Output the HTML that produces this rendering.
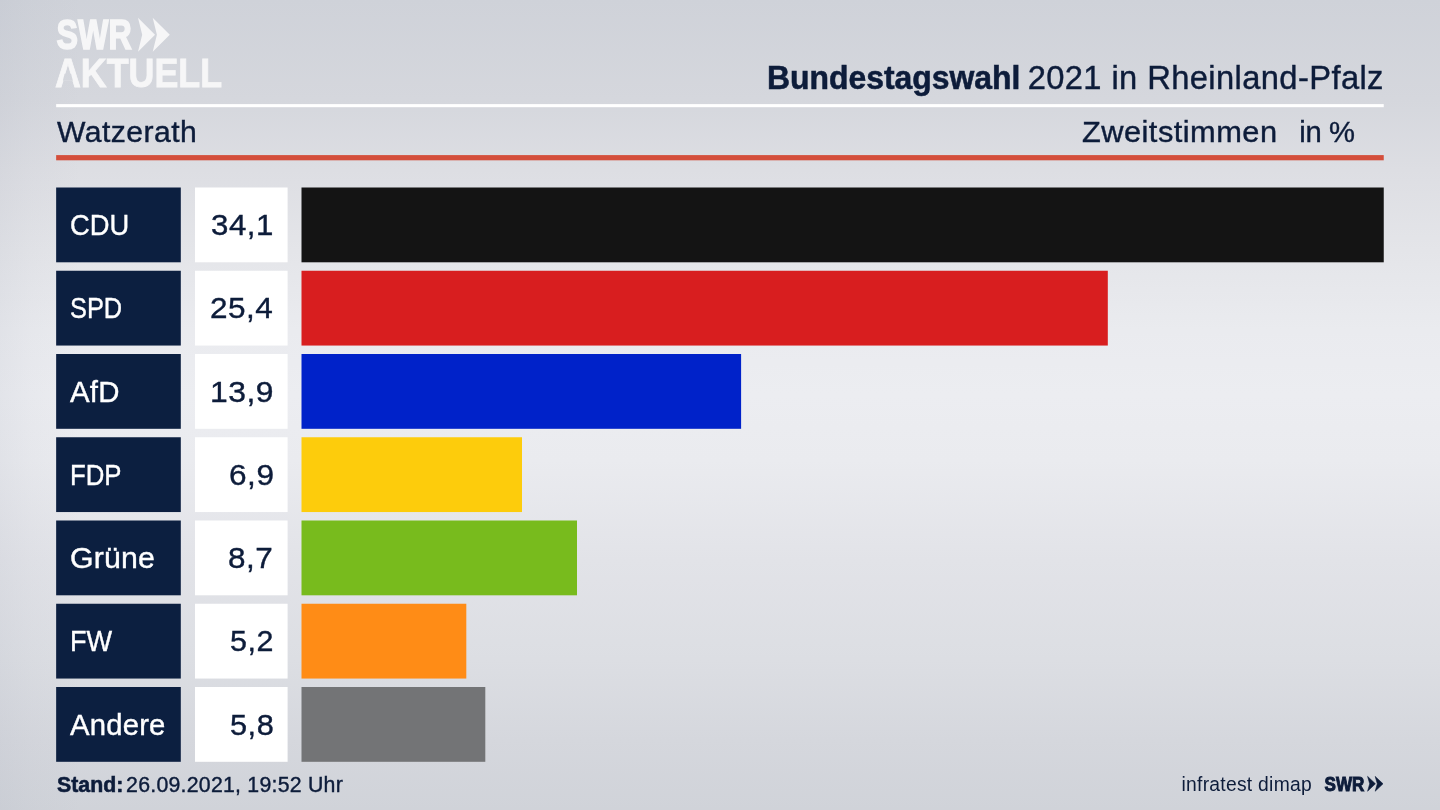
<!DOCTYPE html>
<html lang="de">
<head>
<meta charset="utf-8">
<title>Bundestagswahl 2021 in Rheinland-Pfalz – Watzerath – Zweitstimmen</title>
<style>
  html, body { margin: 0; padding: 0; }
  body {
    width: 1440px; height: 810px; overflow: hidden; position: relative;
    font-family: "Liberation Sans", sans-serif;
    color: #0d1c3a;
    background:
      linear-gradient(to right, rgba(170,176,190,0.15) 0px, rgba(170,176,190,0.07) 30px, rgba(170,176,190,0) 80px),
      linear-gradient(to bottom, #cfd2d9 0px, #d5d7dd 100px, #dddee3 170px, #e4e5e9 250px, #eaebef 330px, #ecedf1 395px, #eaebef 460px, #e2e3e8 560px, #dcdee3 660px, #d5d7dd 740px, #d0d3d9 810px);
  }
  h1 { margin: 0; font-size: inherit; font-weight: normal; }
  .tx { position: absolute; white-space: nowrap; line-height: 1; transform-origin: 0 50%; }
  span.tx { -webkit-text-stroke: 0.4px currentColor; }
  b.tx { font-weight: bold; -webkit-text-stroke: 0.55px currentColor; }
  #logo { position: absolute; left: 0; top: 0; width: 240px; height: 100px; }
  #rules, #chart { position: absolute; left: 0; top: 0; width: 1440px; height: 810px; }
  .lab { color: #ffffff; }
  #swr-small { position: absolute; left: 1316px; top: 768px; width: 76px; height: 32px; }
  #source { -webkit-text-stroke: 0; }
</style>
</head>
<body>
<header>
<svg id="logo" viewBox="0 0 240 100" role="img" aria-label="SWR Aktuell">
  <defs>
    <mask id="nobar" maskUnits="userSpaceOnUse" x="-4" y="-36" width="200" height="44">
      <rect x="-4" y="-36" width="200" height="44" fill="#fff"/>
      <polygon points="11.03,-12.84 18.29,-12.84 20.37,-5.84 8.95,-5.84" fill="#000"/>
    </mask>
  </defs>
  <g fill="#f6f6f7" stroke="#f6f6f7" font-family="Liberation Sans, sans-serif" font-weight="bold">
    <text transform="translate(56.5,49.3) scale(0.775,1)" font-size="41.6" stroke-width="1.6">SWR</text>
    <polygon stroke="none" points="138,17.7 155,34.7 138,51.8 142.2,34.7"/>
    <polygon stroke="none" points="152.7,17.7 169.8,34.7 152.7,51.8 156.9,34.7"/>
    <g transform="translate(54.9,86.6) scale(0.883,1)"><text font-size="40.6" stroke-width="0.8" mask="url(#nobar)">AKTUELL</text></g>
  </g>
</svg>

<h1><b class="tx" id="title_b" style="left:767.17px;top:62.00px;font-size:32.5px;letter-spacing:0.000px;transform:scaleX(0.9812)">Bundestagswahl</b> <span class="tx" id="title_r" style="left:1027.64px;top:62.01px;font-size:32.7px;letter-spacing:0.398px">2021 in Rheinland-Pfalz</span></h1>
<svg id="rules" viewBox="0 0 1440 810" aria-hidden="true"><rect x="56.15" y="104.1" width="1327.6" height="3.1" fill="#ffffff"/><rect x="56.15" y="155.1" width="1327.6" height="5.2" fill="#d44e3b"/></svg>
<span class="tx" id="place" style="left:57.07px;top:118.00px;font-size:29.2px;letter-spacing:0.450px;transform:scaleX(1.0318)">Watzerath</span>
<span class="tx" id="kind" style="left:1082.42px;top:118.00px;font-size:29.2px;letter-spacing:0.450px;transform:scaleX(1.0542)">Zweitstimmen</span>
<span class="tx" id="unit" style="left:1299.28px;top:118.00px;font-size:29.2px;letter-spacing:-0.329px">in %</span>
</header>

<main>
<svg id="chart" viewBox="0 0 1440 810" aria-hidden="true">
  <rect x="56.15" y="187.50" width="124.65" height="74.8" fill="#0c1f40"/><rect x="195.0" y="187.50" width="92.60" height="74.8" fill="#ffffff"/><rect x="301.5" y="187.50" width="1082.25" height="74.8" fill="#141414"/>
  <rect x="56.15" y="270.75" width="124.65" height="74.8" fill="#0c1f40"/><rect x="195.0" y="270.75" width="92.60" height="74.8" fill="#ffffff"/><rect x="301.5" y="270.75" width="806.30" height="74.8" fill="#d81e1f"/>
  <rect x="56.15" y="354.00" width="124.65" height="74.8" fill="#0c1f40"/><rect x="195.0" y="354.00" width="92.60" height="74.8" fill="#ffffff"/><rect x="301.5" y="354.00" width="439.60" height="74.8" fill="#0022c9"/>
  <rect x="56.15" y="437.25" width="124.65" height="74.8" fill="#0c1f40"/><rect x="195.0" y="437.25" width="92.60" height="74.8" fill="#ffffff"/><rect x="301.5" y="437.25" width="220.50" height="74.8" fill="#fdcc0c"/>
  <rect x="56.15" y="520.50" width="124.65" height="74.8" fill="#0c1f40"/><rect x="195.0" y="520.50" width="92.60" height="74.8" fill="#ffffff"/><rect x="301.5" y="520.50" width="275.50" height="74.8" fill="#78bb1d"/>
  <rect x="56.15" y="603.75" width="124.65" height="74.8" fill="#0c1f40"/><rect x="195.0" y="603.75" width="92.60" height="74.8" fill="#ffffff"/><rect x="301.5" y="603.75" width="164.80" height="74.8" fill="#ff8c16"/>
  <rect x="56.15" y="687.00" width="124.65" height="74.8" fill="#0c1f40"/><rect x="195.0" y="687.00" width="92.60" height="74.8" fill="#ffffff"/><rect x="301.5" y="687.00" width="183.80" height="74.8" fill="#737476"/>
</svg>
<div class="rowtx"><span class="tx lab" id="lab0" style="left:69.68px;top:210.00px;font-size:30.2px;letter-spacing:0.000px;transform:scaleX(0.9050)">CDU</span><span class="tx val" id="val0" style="left:210.92px;top:209.00px;font-size:30.4px;letter-spacing:0.500px;transform:scaleX(1.0272)">34,1</span></div>
<div class="rowtx"><span class="tx lab" id="lab1" style="left:69.51px;top:293.00px;font-size:30.2px;letter-spacing:0.000px;transform:scaleX(0.8401)">SPD</span><span class="tx val" id="val1" style="left:209.92px;top:292.00px;font-size:30.4px;letter-spacing:0.500px;transform:scaleX(1.0357)">25,4</span></div>
<div class="rowtx"><span class="tx lab" id="lab2" style="left:70.31px;top:377.00px;font-size:30.2px;letter-spacing:0.200px;transform:scaleX(0.9733)">AfD</span><span class="tx val" id="val2" style="left:209.68px;top:376.00px;font-size:30.4px;letter-spacing:0.500px;transform:scaleX(1.0474)">13,9</span></div>
<div class="rowtx"><span class="tx lab" id="lab3" style="left:70.15px;top:460.00px;font-size:30.2px;letter-spacing:0.000px;transform:scaleX(0.8533)">FDP</span><span class="tx val" id="val3" style="left:228.78px;top:459.00px;font-size:30.4px;letter-spacing:0.500px;transform:scaleX(1.0393)">6,9</span></div>
<div class="rowtx"><span class="tx lab" id="lab4" style="left:69.86px;top:543.00px;font-size:30.2px;letter-spacing:0.200px;transform:scaleX(1.0030)">Grüne</span><span class="tx val" id="val4" style="left:228.30px;top:542.00px;font-size:30.4px;letter-spacing:0.500px;transform:scaleX(1.0354)">8,7</span></div>
<div class="rowtx"><span class="tx lab" id="lab5" style="left:70.37px;top:626.00px;font-size:30.2px;letter-spacing:0.000px;transform:scaleX(0.8974)">FW</span><span class="tx val" id="val5" style="left:229.83px;top:625.00px;font-size:30.4px;letter-spacing:0.500px;transform:scaleX(1.0016)">5,2</span></div>
<div class="rowtx"><span class="tx lab" id="lab6" style="left:70.43px;top:710.00px;font-size:30.2px;letter-spacing:0.200px;transform:scaleX(0.9695)">Andere</span><span class="tx val" id="val6" style="left:229.74px;top:709.00px;font-size:30.4px;letter-spacing:0.500px;transform:scaleX(1.0107)">5,8</span></div>
</main>

<footer>
<b class="tx" id="stand_b" style="left:57.25px;top:775.00px;font-size:21.3px;letter-spacing:0.000px;transform:scaleX(1.0004)">Stand:</b><span class="tx" id="stand_r" style="left:126.11px;top:775.00px;font-size:21.3px;letter-spacing:0.234px">26.09.2021, 19:52 Uhr</span>
<span class="tx" id="source" style="left:1181.49px;top:775.01px;font-size:19.3px;letter-spacing:0.269px">infratest dimap</span>
<svg id="swr-small" viewBox="1316 768 76 32" role="img" aria-label="SWR">
  <g fill="#0d1c3a" stroke="#0d1c3a" font-family="Liberation Sans, sans-serif" font-weight="bold">
    <text transform="translate(1324.5,790.9) scale(0.845,1)" font-size="20.2" stroke-width="1">SWR</text>
    <polygon stroke-width="0.6" stroke-linejoin="miter" points="1367.6,776.4 1375.4,783.8 1367.6,791.2 1369.7,783.8"/>
    <polygon stroke-width="0.6" stroke-linejoin="miter" points="1375.2,776.4 1383.0,783.8 1375.2,791.2 1377.3,783.8"/>
  </g>
</svg>

</footer>

</body>
</html>
